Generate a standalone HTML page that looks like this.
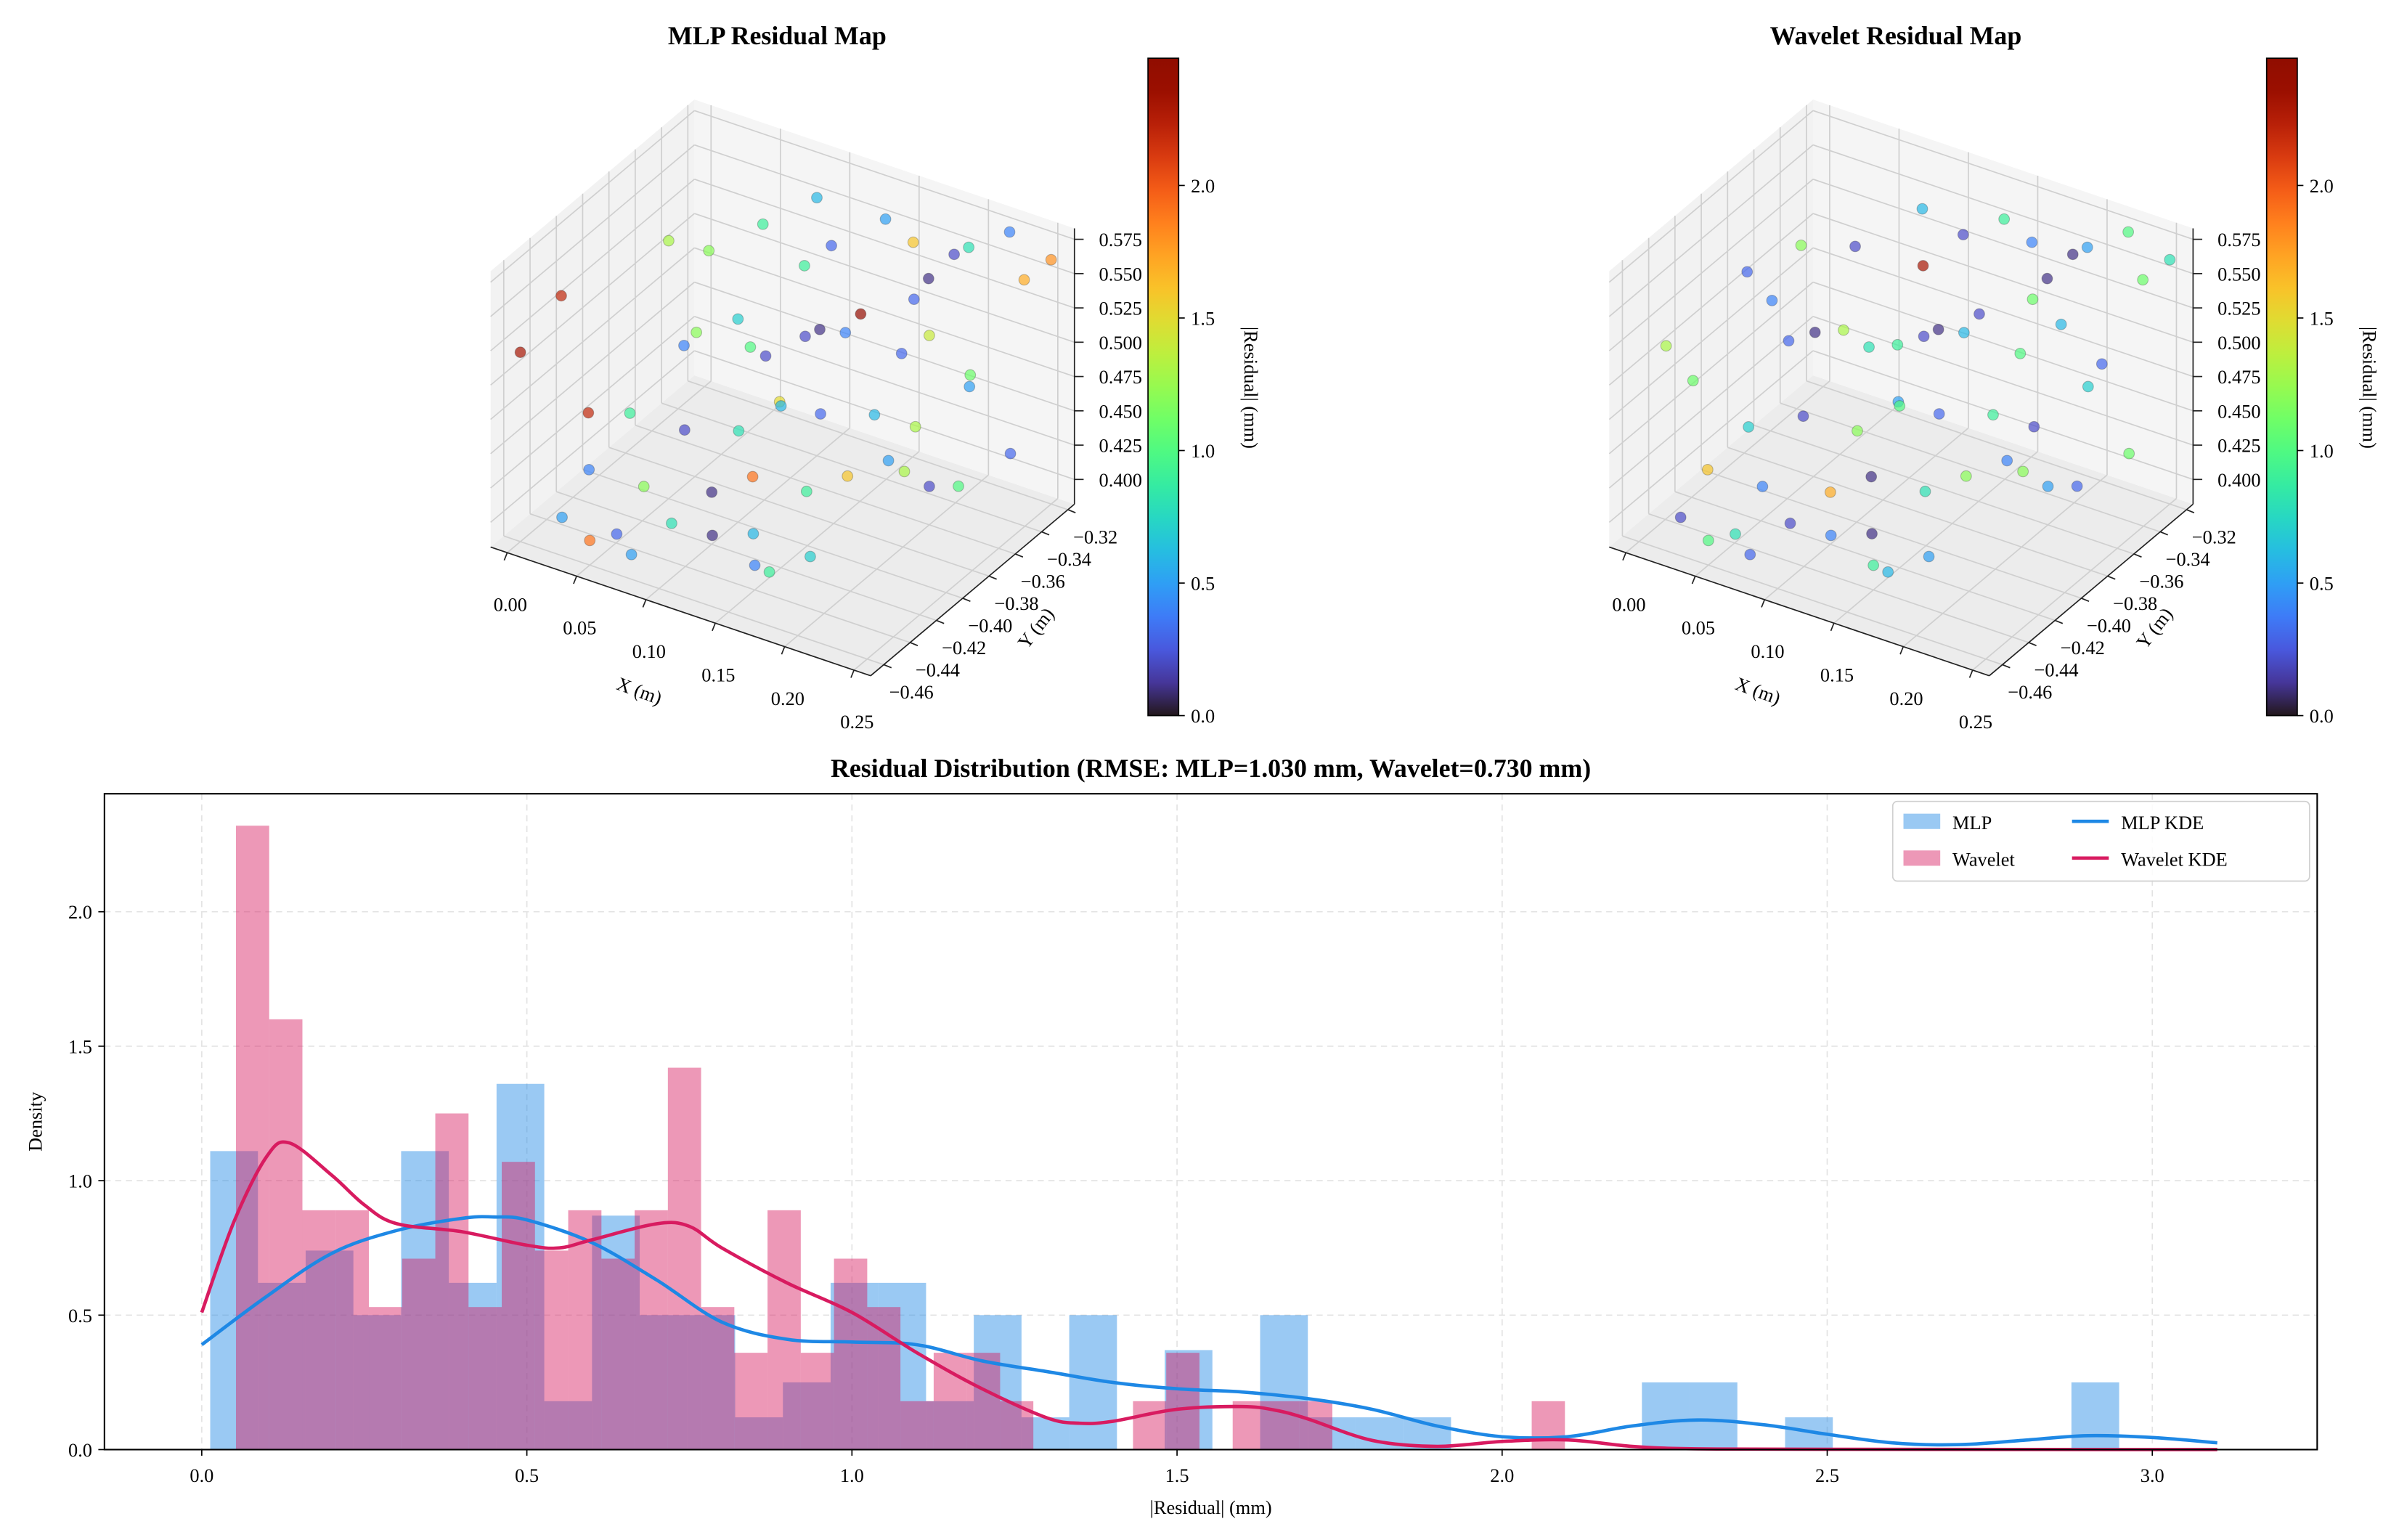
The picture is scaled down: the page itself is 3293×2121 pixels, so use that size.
<!DOCTYPE html>
<html><head><meta charset="utf-8"><style>
html,body{margin:0;padding:0;background:#fff}
svg{display:block}
text{font-family:"Liberation Serif","DejaVu Serif",serif;fill:#000}
</style></head><body>
<svg id="fig" xmlns="http://www.w3.org/2000/svg" width="3293" height="2121" viewBox="0 0 1560 1005"></svg>
<script>
// ---- Histogram data ----
const mlpBins = [1.11,0.62,0.74,0.50,1.11,0.62,1.36,0.18,0.87,0.50,0.50,0.12,0.25,0.62,0.62,0.18,0.50,0.12,0.50,0,0.37,0,0.50,0.12,0.12,0.12,0,0,0,0,0.25,0.25,0,0.12,0,0,0,0,0,0.25];
const mlpBinStart = 0.013, mlpBinWidth = 0.0734;
const waveBins = [2.32,1.60,0.89,0.89,0.53,0.71,1.25,0.53,1.07,0.74,0.89,0.71,0.89,1.42,0.53,0.36,0.89,0.36,0.71,0.53,0.18,0.36,0.36,0.18,0,0,0,0.18,0.36,0,0.18,0.18,0.18,0,0,0,0,0,0,0.18];
const waveBinStart = 0.0526, waveBinWidth = 0.0511;
const mlpKdeX = [0,0.1,0.2,0.3,0.4,0.45,0.5,0.6,0.7,0.8,0.9,1.0,1.1,1.2,1.3,1.4,1.5,1.6,1.7,1.8,1.9,2.0,2.1,2.2,2.3,2.4,2.5,2.6,2.7,2.8,2.9,3.0,3.1];
const mlpKdeY = [0.39,0.57,0.73,0.815,0.86,0.865,0.854,0.77,0.63,0.474,0.41,0.40,0.39,0.33,0.29,0.25,0.226,0.214,0.19,0.15,0.088,0.048,0.048,0.088,0.11,0.093,0.057,0.025,0.018,0.034,0.052,0.045,0.025];
const waveKdeX = [0,0.05,0.1,0.135,0.2,0.25,0.3,0.4,0.5,0.55,0.6,0.7,0.75,0.8,0.9,1.0,1.1,1.2,1.3,1.35,1.4,1.5,1.6,1.65,1.7,1.8,1.9,2.0,2.1,2.2,2.3,2.5,3.1];
const waveKdeY = [0.51,0.85,1.09,1.14,1.02,0.91,0.84,0.81,0.76,0.75,0.78,0.84,0.83,0.75,0.62,0.51,0.36,0.226,0.118,0.098,0.105,0.15,0.16,0.147,0.115,0.034,0.012,0.03,0.036,0.012,0.003,0.001,0];
const histXTicks = [0,0.5,1.0,1.5,2.0,2.5,3.0];
const histXTickLabels = ["0.0","0.5","1.0","1.5","2.0","2.5","3.0"];
const histYTicks = [0,0.5,1.0,1.5,2.0];
const histYTickLabels = ["0.0","0.5","1.0","1.5","2.0"];
// ---- 3D scatter data: [x, y, z, |residual|] ----
const mlpPoints = [[0.02,-0.45,0.56,2.2],[0.00,-0.46,0.52,2.3],[0.03,-0.44,0.47,2.2],[0.05,-0.40,0.57,1.3],[0.06,-0.38,0.55,1.2],[0.08,-0.36,0.56,0.9],[0.10,-0.34,0.57,0.6],[0.12,-0.35,0.55,0.3],[0.14,-0.33,0.56,0.5],[0.16,-0.33,0.55,1.6],[0.18,-0.32,0.54,0.2],[0.20,-0.33,0.56,0.8],[0.22,-0.32,0.57,0.4],[0.24,-0.33,0.55,1.7],[0.25,-0.32,0.56,1.8],[0.08,-0.42,0.52,0.4],[0.10,-0.40,0.53,0.7],[0.12,-0.40,0.51,0.2],[0.14,-0.38,0.52,0.1],[0.16,-0.37,0.53,2.4],[0.18,-0.36,0.50,0.3],[0.20,-0.36,0.52,1.4],[0.22,-0.35,0.49,1.1],[0.06,-0.44,0.48,0.9],[0.09,-0.43,0.47,0.2],[0.11,-0.41,0.46,0.8],[0.13,-0.40,0.48,1.5],[0.15,-0.39,0.47,0.3],[0.17,-0.37,0.46,0.6],[0.19,-0.36,0.45,1.3],[0.21,-0.34,0.47,0.5],[0.04,-0.45,0.44,0.4],[0.07,-0.44,0.43,1.2],[0.10,-0.42,0.42,0.1],[0.12,-0.41,0.43,1.9],[0.14,-0.39,0.41,0.9],[0.16,-0.38,0.42,1.6],[0.18,-0.37,0.43,0.5],[0.20,-0.36,0.41,0.2],[0.23,-0.33,0.42,0.3],[0.03,-0.46,0.41,0.5],[0.06,-0.45,0.40,0.3],[0.09,-0.44,0.41,0.8],[0.11,-0.43,0.40,0.1],[0.13,-0.42,0.40,0.6],[0.15,-0.44,0.40,0.4],[0.17,-0.45,0.41,0.9],[0.05,-0.46,0.40,1.9],[0.08,-0.46,0.40,0.5],[0.19,-0.44,0.42,0.7],[0.24,-0.38,0.44,1.0],[0.22,-0.40,0.46,1.3],[0.12,-0.37,0.50,0.2],[0.09,-0.38,0.49,1.0],[0.07,-0.40,0.51,1.2],[0.17,-0.34,0.52,0.3],[0.19,-0.35,0.55,0.1],[0.13,-0.35,0.49,0.4],[0.11,-0.36,0.54,0.9],[0.15,-0.42,0.50,0.6]];
const wavePoints = [[0.01,-0.45,0.52,1.3],[0.02,-0.44,0.49,1.1],[0.04,-0.42,0.56,0.3],[0.06,-0.40,0.57,1.2],[0.08,-0.38,0.56,0.2],[0.10,-0.35,0.57,0.6],[0.12,-0.34,0.55,0.2],[0.14,-0.33,0.56,0.9],[0.16,-0.33,0.55,0.4],[0.18,-0.32,0.54,0.1],[0.20,-0.33,0.56,0.5],[0.22,-0.32,0.57,1.0],[0.24,-0.33,0.55,1.1],[0.25,-0.32,0.56,0.8],[0.07,-0.42,0.52,0.3],[0.10,-0.41,0.53,1.3],[0.12,-0.39,0.51,0.9],[0.14,-0.38,0.52,0.1],[0.16,-0.37,0.53,0.2],[0.18,-0.36,0.50,1.0],[0.20,-0.35,0.52,0.6],[0.22,-0.34,0.49,0.3],[0.06,-0.44,0.47,0.7],[0.09,-0.43,0.48,0.2],[0.11,-0.41,0.46,1.2],[0.13,-0.40,0.48,0.5],[0.15,-0.39,0.47,0.3],[0.17,-0.37,0.46,0.9],[0.19,-0.36,0.45,0.2],[0.21,-0.34,0.47,0.7],[0.04,-0.45,0.44,1.6],[0.07,-0.44,0.43,0.4],[0.10,-0.42,0.42,1.7],[0.12,-0.41,0.43,0.1],[0.14,-0.39,0.41,0.8],[0.16,-0.38,0.42,1.2],[0.18,-0.37,0.43,0.4],[0.20,-0.36,0.41,0.5],[0.23,-0.33,0.42,1.1],[0.03,-0.46,0.41,0.2],[0.06,-0.45,0.40,0.8],[0.09,-0.44,0.41,0.2],[0.11,-0.43,0.40,0.4],[0.13,-0.42,0.40,0.1],[0.15,-0.44,0.40,0.9],[0.17,-0.45,0.41,0.6],[0.05,-0.46,0.40,1.0],[0.08,-0.46,0.40,0.3],[0.19,-0.44,0.42,0.5],[0.24,-0.38,0.44,0.3],[0.22,-0.40,0.46,1.2],[0.12,-0.37,0.50,0.2],[0.09,-0.38,0.49,0.8],[0.07,-0.40,0.51,0.1],[0.17,-0.34,0.52,1.1],[0.19,-0.35,0.55,0.1],[0.13,-0.35,0.49,0.6],[0.11,-0.36,0.54,2.3],[0.15,-0.42,0.50,1.0],[0.02,-0.38,0.50,0.4]];
const xTicks3d = [0,0.05,0.10,0.15,0.20,0.25];
const xTickLabels3d = ["0.00","0.05","0.10","0.15","0.20","0.25"];
const yTicks3d = [-0.46,-0.44,-0.42,-0.40,-0.38,-0.36,-0.34,-0.32];
const yTickLabels3d = ["\u22120.46","\u22120.44","\u22120.42","\u22120.40","\u22120.38","\u22120.36","\u22120.34","\u22120.32"];
const zTicks3d = [0.400,0.425,0.450,0.475,0.500,0.525,0.550,0.575];
const zTickLabels3d = ["0.400","0.425","0.450","0.475","0.500","0.525","0.550","0.575"];
const cbTicks = [0,0.5,1.0,1.5,2.0];
const cbTickLabels = ["0.0","0.5","1.0","1.5","2.0"];
const cbMax = 2.48;

const NS = "http://www.w3.org/2000/svg";
const svg = document.getElementById('fig');
function el(tag, attrs, parent){
  const e = document.createElementNS(NS, tag);
  for (const k in attrs) e.setAttribute(k, attrs[k]);
  (parent||svg).appendChild(e);
  return e;
}
function txt(s, x, y, attrs, parent){
  const t = el('text', Object.assign({x:x, y:y, 'font-size':12.5}, attrs||{}), parent);
  t.textContent = s;
  return t;
}
function turbo(t){
  t = Math.max(0, Math.min(1, t));
  const r = 0.13572138 + t*(4.61539260 + t*(-42.66032258 + t*(132.13108234 + t*(-152.94239396 + t*59.28637943))));
  const g = 0.09140261 + t*(2.19418839 + t*(4.84296658 + t*(-14.18503333 + t*(4.27729857 + t*2.82956604))));
  const b = 0.10667330 + t*(12.64194608 + t*(-60.58204836 + t*(110.36276771 + t*(-89.90310912 + t*27.34824973))));
  const c = v => Math.round(Math.max(0, Math.min(1, v))*255);
  return `rgb(${c(r)},${c(g)},${c(b)})`;
}

// ---------- 3D panels ----------
function panel3d(dx, title, points, nameBase){
  const g = el('g', {});
  
  
  const xr = [-0.012, 0.262], yr = [-0.47, -0.315], zr = [0.382, 0.583];
  const A = [320+dx, 357], ex = [248, 84], ey = [133, -112], ez = [0, -180];
  function P(x,y,z){
    const fx = (x-xr[0])/(xr[1]-xr[0]), fy = (y-yr[0])/(yr[1]-yr[0]), fz = (z-zr[0])/(zr[1]-zr[0]);
    return [A[0]+fx*ex[0]+fy*ey[0]+fz*ez[0], A[1]+fx*ex[1]+fy*ey[1]+fz*ez[1]];
  }
  const poly = pts => pts.map(p => p.join(',')).join(' ');
  const [x0,x1] = xr, [y0,y1] = yr, [z0,z1] = zr;
  const floor = el('polygon', {points: poly([P(x0,y0,z0),P(x1,y0,z0),P(x1,y1,z0),P(x0,y1,z0)]), fill:'#ececec', stroke:'none'}, g);
  
  
  const lw = el('polygon', {points: poly([P(x0,y0,z0),P(x0,y1,z0),P(x0,y1,z1),P(x0,y0,z1)]), fill:'#f2f2f2', stroke:'none'}, g);
  
  
  const bw = el('polygon', {points: poly([P(x0,y1,z0),P(x1,y1,z0),P(x1,y1,z1),P(x0,y1,z1)]), fill:'#f5f5f5', stroke:'none'}, g);
  
  
  const gl = (a,b) => el('line', {x1:a[0],y1:a[1],x2:b[0],y2:b[1],stroke:'#cfcfcf','stroke-width':0.8}, g);
  xTicks3d.forEach(x => { gl(P(x,y0,z0),P(x,y1,z0)); gl(P(x,y1,z0),P(x,y1,z1)); });
  yTicks3d.forEach(y => { gl(P(x0,y,z0),P(x1,y,z0)); gl(P(x0,y,z0),P(x0,y,z1)); });
  zTicks3d.forEach(z => { gl(P(x0,y0,z),P(x0,y1,z)); gl(P(x0,y1,z),P(x1,y1,z)); });
  const edge = (a,b) => el('line', {x1:a[0],y1:a[1],x2:b[0],y2:b[1],stroke:'#222','stroke-width':0.8}, g);
  edge(P(x0,y0,z0),P(x1,y0,z0)); edge(P(x1,y0,z0),P(x1,y1,z0)); edge(P(x1,y1,z0),P(x1,y1,z1));
  xTicks3d.forEach((x,i) => {
    const p = P(x,y0,z0);
    el('line',{x1:p[0],y1:p[1],x2:p[0]-2,y2:p[1]+5,stroke:'#222','stroke-width':0.8},g);
    const t = txt(xTickLabels3d[i], p[0]+2, p[1]+38, {'text-anchor':'middle'}, g);
    
    
  });
  yTicks3d.forEach((y,i) => {
    const p = P(x1,y,z0);
    el('line',{x1:p[0],y1:p[1],x2:p[0]+5,y2:p[1]+2,stroke:'#222','stroke-width':0.8},g);
    const t = txt(yTickLabels3d[i], p[0]+18, p[1]+22, {'text-anchor':'middle'}, g);
    
    
  });
  zTicks3d.forEach((z,i) => {
    const p = P(x1,y1,z);
    el('line',{x1:p[0],y1:p[1],x2:p[0]+6,y2:p[1],stroke:'#222','stroke-width':0.8},g);
    const t = txt(zTickLabels3d[i], p[0]+16, p[1]+4.5, {'text-anchor':'start'}, g);
    
    
  });
  const xl = txt('X (m)', 417+dx, 455, {'text-anchor':'middle', transform:`rotate(20 ${417+dx} 451)`}, g);
  
  
  const yl = txt('Y (m)', 676+dx, 414, {'text-anchor':'middle', transform:`rotate(-52 ${676+dx} 410)`}, g);
  
  
  points.forEach(pt => {
    const p = P(pt[0],pt[1],pt[2]);
    const c = el('circle', {cx:p[0].toFixed(1), cy:p[1].toFixed(1), r:3.5, fill:turbo(pt[3]/cbMax), 'fill-opacity':0.7, stroke:'#333', 'stroke-opacity':0.3, 'stroke-width':0.5}, g);
    
    
  });
  const tt = txt(title, 507+dx, 29, {'text-anchor':'middle','font-size':17,'font-weight':'bold'}, g);
  
  
  const cbx = 749+dx, cbTop = 38, cbBot = 467;
  const gradId = 'turbo' + nameBase;
  const defs = el('defs', {}, g);
  const lg = el('linearGradient', {id:gradId, x1:0, y1:1, x2:0, y2:0}, defs);
  for (let i=0;i<=20;i++) el('stop', {offset:(i/20), 'stop-color':turbo(i/20)}, lg);
  const cb = el('rect', {x:cbx, y:cbTop, width:20, height:cbBot-cbTop, fill:`url(#${gradId})`, stroke:'#000', 'stroke-width':0.8}, g);
  
  
  cbTicks.forEach((v,i) => {
    const y = cbBot - v/cbMax*(cbBot-cbTop);
    el('line', {x1:cbx+20, y1:y, x2:cbx+24, y2:y, stroke:'#000','stroke-width':0.8}, g);
    const t = txt(cbTickLabels[i], cbx+28, y+4.5, {}, g);
    
    
  });
  const cl = txt('|Residual| (mm)', cbx+63, 253, {'text-anchor':'middle', transform:`rotate(90 ${cbx+63} 253)`}, g);
  
  
}
panel3d(0, 'MLP Residual Map', mlpPoints, 'mlp-map');
panel3d(730, 'Wavelet Residual Map', wavePoints, 'wavelet-map');

// ---------- Histogram ----------
const L = 68, R = 1512, T = 518, B = 946;
const X = v => 131.5 + v*424.3;
const Y = d => B - d*175.5;
const hg = el('g', {});


histXTicks.forEach(v => el('line', {x1:X(v), y1:T, x2:X(v), y2:B, stroke:'#e3e3e3', 'stroke-width':0.8, 'stroke-dasharray':'4,3'}, hg));
histYTicks.forEach(v => { if (v>0) el('line', {x1:L, y1:Y(v), x2:R, y2:Y(v), stroke:'#e3e3e3', 'stroke-width':0.8, 'stroke-dasharray':'4,3'}, hg); });
mlpBins.forEach((d,i) => {
  if (!d) return;
  const x0 = X(mlpBinStart + i*mlpBinWidth), x1 = X(mlpBinStart + (i+1)*mlpBinWidth);
  const r = el('rect', {x:x0, y:Y(d), width:x1-x0, height:B-Y(d), fill:'#1e88e5', 'fill-opacity':0.45}, hg);
  
  
});
waveBins.forEach((d,i) => {
  if (!d) return;
  const x0 = X(waveBinStart + i*waveBinWidth), x1 = X(waveBinStart + (i+1)*waveBinWidth);
  const r = el('rect', {x:x0, y:Y(d), width:x1-x0, height:B-Y(d), fill:'#d81b60', 'fill-opacity':0.45}, hg);
  
  
});
function smoothPath(xs, ys){
  const p = xs.map((x,i) => [X(x), Y(ys[i])]);
  let d = `M${p[0][0]},${p[0][1]}`;
  for (let i=0;i<p.length-1;i++){
    const p0 = p[Math.max(0,i-1)], p1 = p[i], p2 = p[i+1], p3 = p[Math.min(p.length-1,i+2)];
    const c1 = [p1[0]+(p2[0]-p0[0])/6, p1[1]+(p2[1]-p0[1])/6];
    const c2 = [p2[0]-(p3[0]-p1[0])/6, p2[1]-(p3[1]-p1[1])/6];
    d += ` C${c1[0].toFixed(1)},${c1[1].toFixed(1)} ${c2[0].toFixed(1)},${c2[1].toFixed(1)} ${p2[0].toFixed(1)},${p2[1].toFixed(1)}`;
  }
  return d;
}
const mk = el('path', {d:smoothPath(mlpKdeX, mlpKdeY), fill:'none', stroke:'#1e88e5', 'stroke-width':2.2}, hg);


const wk = el('path', {d:smoothPath(waveKdeX, waveKdeY), fill:'none', stroke:'#d81b60', 'stroke-width':2.2}, hg);


const frame = el('rect', {x:L, y:T, width:R-L, height:B-T, fill:'none', stroke:'#000', 'stroke-width':1}, hg);


histXTicks.forEach((v,i) => {
  el('line', {x1:X(v), y1:B, x2:X(v), y2:B+4, stroke:'#000', 'stroke-width':0.8}, hg);
  const t = txt(histXTickLabels[i], X(v), B+21, {'text-anchor':'middle'}, hg);
  
  
});
histYTicks.forEach((v,i) => {
  el('line', {x1:L-4, y1:Y(v), x2:L, y2:Y(v), stroke:'#000', 'stroke-width':0.8}, hg);
  const t = txt(histYTickLabels[i], L-8, Y(v)+4.5, {'text-anchor':'end'}, hg);
  
  
});
const xt = txt('|Residual| (mm)', 790, 988, {'text-anchor':'middle'}, hg);


const yt = txt('Density', 27, 732, {'text-anchor':'middle', transform:'rotate(-90 27 732)'}, hg);


const ht = txt('Residual Distribution (RMSE: MLP=1.030 mm, Wavelet=0.730 mm)', 790, 507, {'text-anchor':'middle','font-size':17,'font-weight':'bold'}, hg);


const lgG = el('g', {}, hg);


el('rect', {x:1235, y:523, width:272, height:52, rx:3, fill:'#fff', 'fill-opacity':0.85, stroke:'#d0d0d0', 'stroke-width':0.8}, lgG);
const e1 = el('rect', {x:1242, y:531, width:24, height:10, fill:'#1e88e5', 'fill-opacity':0.45}, lgG);


txt('MLP', 1274, 541, {}, lgG);
const e2 = el('rect', {x:1242, y:555, width:24, height:10, fill:'#d81b60', 'fill-opacity':0.45}, lgG);


txt('Wavelet', 1274, 565, {}, lgG);
const e3 = el('line', {x1:1352, y1:536, x2:1376, y2:536, stroke:'#1e88e5', 'stroke-width':2.2}, lgG);


txt('MLP KDE', 1384, 541, {}, lgG);
const e4 = el('line', {x1:1352, y1:560, x2:1376, y2:560, stroke:'#d81b60', 'stroke-width':2.2}, lgG);


txt('Wavelet KDE', 1384, 565, {}, lgG);
</script>
</body></html>
